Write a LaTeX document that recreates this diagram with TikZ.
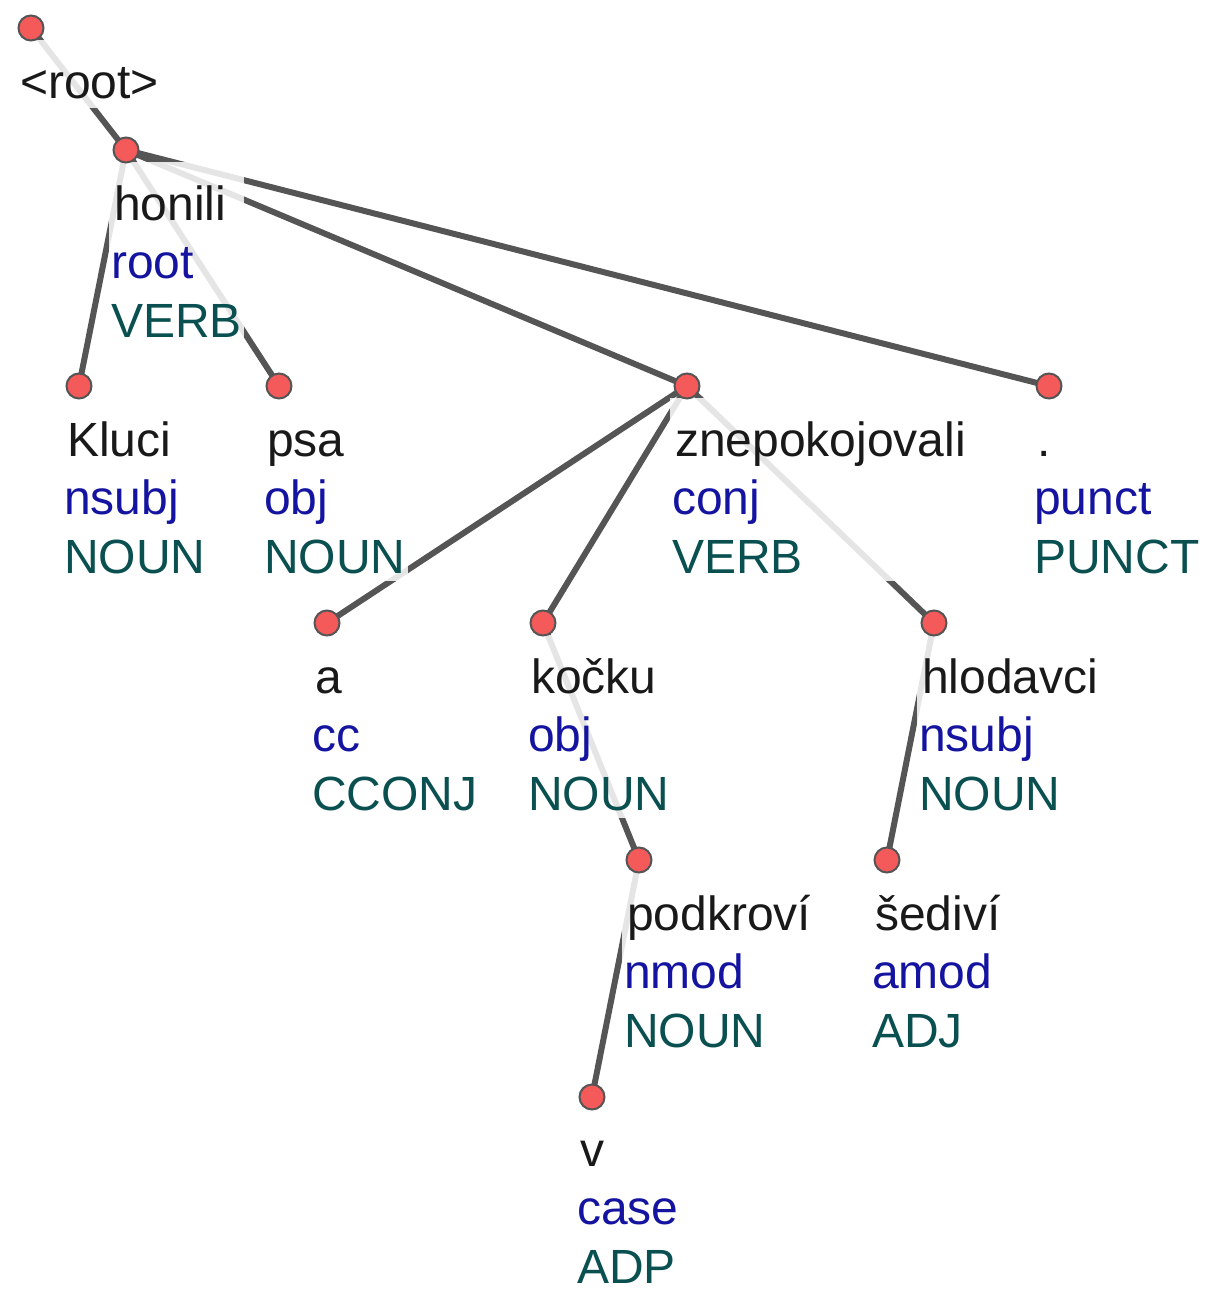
\documentclass[tikz,border=0pt]{standalone}
\usepackage{fontspec}
\setmainfont{Liberation Sans}
\definecolor{edgec}{RGB}{85,85,85}
\definecolor{nodefill}{RGB}{245,90,90}
\definecolor{relc}{RGB}{20,20,160}
\definecolor{posc}{RGB}{10,80,80}
\definecolor{wordc}{RGB}{25,25,25}
\pgfdeclarelayer{edgelayer}
\pgfdeclarelayer{toplayer}
\pgfsetlayers{edgelayer,main,toplayer}
\newcommand{\tlab}[3]{\rule{0pt}{58pt}\hspace{3pt}\textcolor{wordc}{#1}\\\textcolor{relc}{#2}\\\textcolor{posc}{#3}\rule[-8pt]{0pt}{8pt}}
\newcommand{\tlabb}[3]{\rule{0pt}{58pt}\hspace{3pt}\textcolor{wordc}{#1}\\\textcolor{relc}{#2}\\\textcolor{posc}{#3}}
\begin{document}
\begin{tikzpicture}[x=1pt,y=-1pt,
  tok/.style={circle, fill=nodefill, draw=edgec, line width=2pt, minimum size=25pt, inner sep=0pt},
  dep/.style={draw=edgec, line width=6pt},
  lbl/.style={anchor=north west, fill=white, fill opacity=0.85, text opacity=1, inner xsep=2pt, inner ysep=0pt, align=left, font=\fontsize{48}{58.5}\selectfont}]
\useasboundingbox (0,0) rectangle (1217,1290);
\begin{pgfonlayer}{toplayer}
\node[tok] (root) at (31,28) {};
\node[tok] (honili) at (126,150) {};
\node[tok] (kluci) at (79,386) {};
\node[tok] (psa) at (279,386) {};
\node[tok] (znep) at (687,386) {};
\node[tok] (dot) at (1049,386) {};
\node[tok] (a) at (327,623) {};
\node[tok] (kocku) at (543,623) {};
\node[tok] (hlod) at (934,623) {};
\node[tok] (podkr) at (639,860) {};
\node[tok] (sedivi) at (887,860) {};
\node[tok] (v) at (592,1097) {};
\end{pgfonlayer}
\begin{pgfonlayer}{edgelayer}
\draw[dep] (root.center) -- (honili.center);
\draw[dep] (honili.center) -- (kluci.center);
\draw[dep] (honili.center) -- (psa.center);
\draw[dep] (honili.center) -- (znep.center);
\draw[dep] (honili.center) -- (dot.center);
\draw[dep] (znep.center) -- (a.center);
\draw[dep] (znep.center) -- (kocku.center);
\draw[dep] (znep.center) -- (hlod.center);
\draw[dep] (kocku.center) -- (podkr.center);
\draw[dep] (podkr.center) -- (v.center);
\draw[dep] (hlod.center) -- (sedivi.center);
\end{pgfonlayer}
\node[lbl] (l-root) at (15,40) {\rule{0pt}{58pt}\hspace{3pt}\textcolor{wordc}{<root>}\rule[-10pt]{0pt}{10pt}};
\node[lbl] (l-honili) at (109,162) {\tlab{honili}{root}{VERB}};
\node[lbl] (l-kluci) at (62,398) {\tlab{Kluci}{nsubj}{NOUN}};
\node[lbl] (l-psa) at (262,398) {\tlab{psa}{obj}{NOUN}};
\node[lbl] (l-znep) at (670,398) {\tlab{znepokojovali}{conj}{VERB}};
\node[lbl] (l-dot) at (1032,398) {\tlab{.}{punct}{PUNCT}};
\node[lbl] (l-a) at (310,635) {\tlab{a}{cc}{CCONJ}};
\node[lbl] (l-kocku) at (526,635) {\tlab{kočku}{obj}{NOUN}};
\node[lbl] (l-hlod) at (917,635) {\tlab{hlodavci}{nsubj}{NOUN}};
\node[lbl] (l-podkr) at (622,872) {\tlab{podkroví}{nmod}{NOUN}};
\node[lbl] (l-sedivi) at (870,872) {\tlab{šediví}{amod}{ADJ}};
\node[lbl] (l-v) at (575,1108) {\tlabb{v}{case}{ADP}};
\end{tikzpicture}
\end{document}
